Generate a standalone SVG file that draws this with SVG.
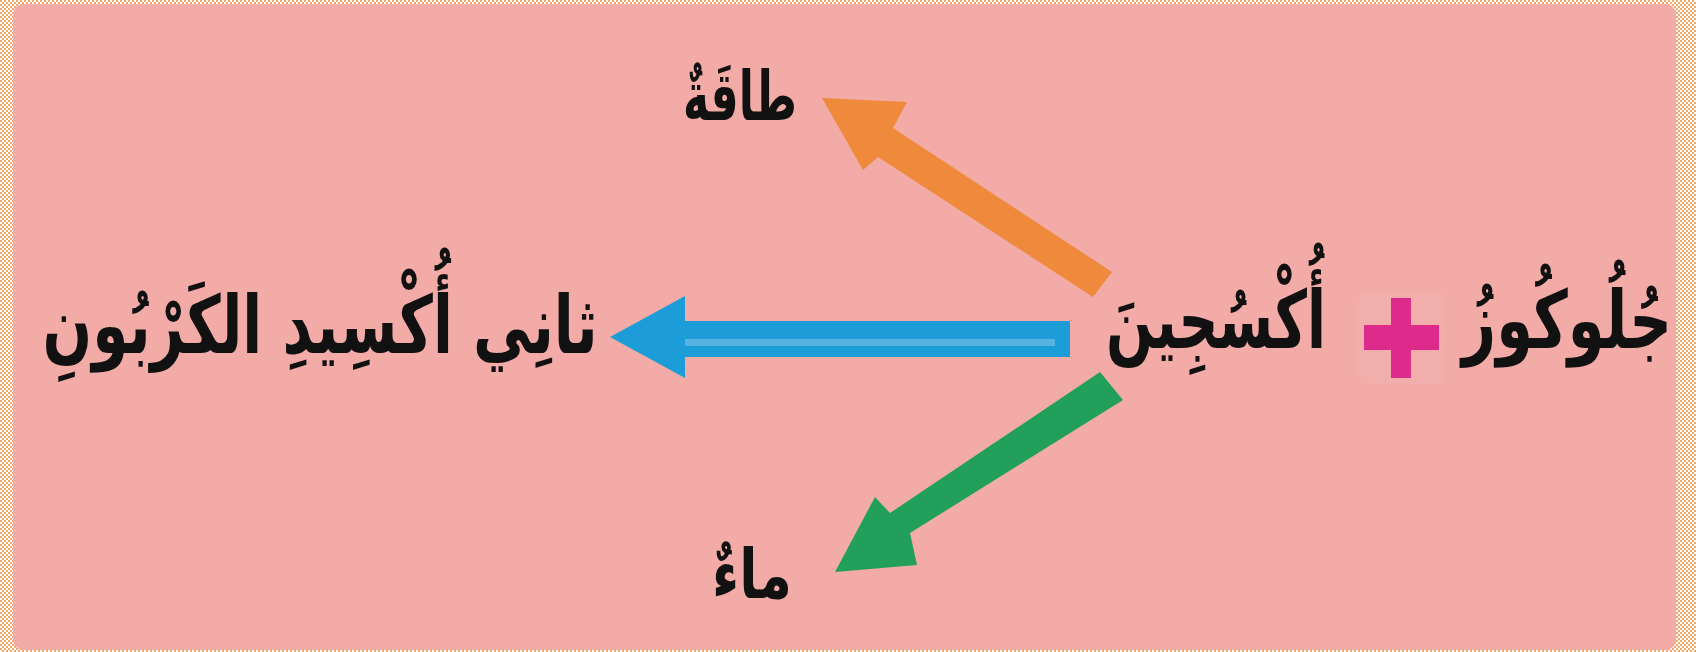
<svg xmlns="http://www.w3.org/2000/svg" width="1696" height="652" viewBox="0 0 1696 652">
  <defs>
    <pattern id="checker" width="4" height="4" patternUnits="userSpaceOnUse">
      <rect width="4" height="4" fill="#ffffff"/>
      <rect width="2" height="2" fill="#F3A868"/>
      <rect x="2" y="2" width="2" height="2" fill="#F3A868"/>
    </pattern>
  </defs>
  <style>
    .big { font-family: "DejaVu Sans", sans-serif; font-weight: bold; font-size: 80px; fill: #111; }
    .small { font-family: "DejaVu Sans", sans-serif; font-weight: bold; font-size: 68px; fill: #111; }
  </style>
  <rect width="1696" height="652" fill="url(#checker)"/>
  <rect x="13" y="4" width="1663" height="646" rx="10" fill="#F2ABA6"/>

  <g id="connectors">
    <polygon id="arrow-energy" points="822,98 907,102 893,128 1112,272 1093,297 878,157 863,170" fill="#EF8A3C"/>
    <g id="arrow-co2">
      <polygon points="610,337 685,296 685,321 1070,321 1070,357 685,357 685,378" fill="#1D9DD8"/>
      <rect x="685" y="339" width="370" height="7" fill="#58B2E0"/>
    </g>
    <polygon id="arrow-water" points="835,572 875,497 890,513 1100,372 1123,400 910,533 917,565" fill="#22A05B"/>
  </g>

  <g id="node-energy">
    <text class="small" x="740" y="120" text-anchor="middle" direction="rtl" textLength="114" lengthAdjust="spacingAndGlyphs">طاقَةٌ</text>
  </g>
  <g id="node-water">
    <text class="small" x="752" y="598" text-anchor="middle" direction="rtl" textLength="80" lengthAdjust="spacingAndGlyphs">ماءٌ</text>
  </g>
  <g id="node-co2">
    <text class="big" x="320" y="353" text-anchor="middle" direction="rtl" textLength="555" lengthAdjust="spacingAndGlyphs">ثانِي أُكْسِيدِ الكَرْبُونِ</text>
  </g>
  <g id="node-oxygen">
    <text class="big" x="1216" y="348" text-anchor="middle" direction="rtl" textLength="220" lengthAdjust="spacingAndGlyphs">أُكْسُجِينَ</text>
  </g>
  <g id="node-plus">
    <rect x="1358" y="292" width="88" height="92" rx="10" fill="#F6BCC0" opacity="0.2"/>
    <rect x="1364" y="325" width="75" height="25" fill="#DD2A8C"/>
    <rect x="1391" y="298" width="20" height="80" fill="#DD2A8C"/>
  </g>
  <g id="node-glucose">
    <text class="big" x="1567" y="348" text-anchor="middle" direction="rtl" textLength="210" lengthAdjust="spacingAndGlyphs">جُلُوكُوزُ</text>
  </g>
</svg>
